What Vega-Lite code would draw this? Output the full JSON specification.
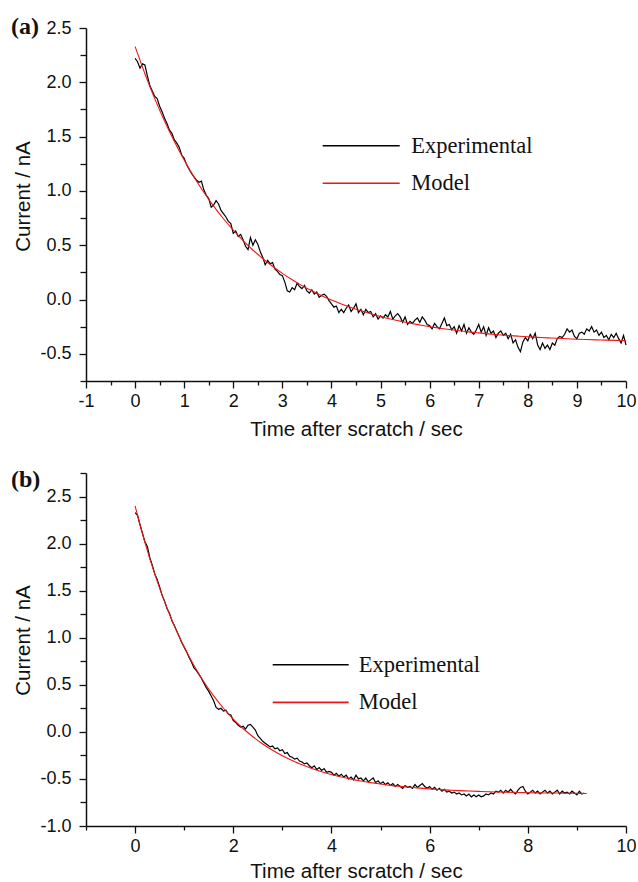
{
  "$schema": "https://vega.github.io/schema/vega-lite/v6.json",
  "padding": {"left": 10, "top": 15, "right": 0, "bottom": 0},
  "config": {
    "font": "Liberation Sans",
    "view": {"stroke": null},
    "axis": {"grid": false, "domainColor": "#111", "domainWidth": 1.5, "tickColor": "#111", "tickWidth": 1.3, "labelColor": "#111", "titleColor": "#111", "labelFont": "Liberation Sans", "titleFont": "Liberation Sans", "labelFontSize": 18, "titleFontSize": 20.5, "titleFontWeight": "normal", "labelFlush": false, "labelOverlap": false, "labelBound": false}
  },
  "datasets": {
    "a_exp": [
      {"t":0.00,"i":2.22},{"t":0.05,"i":2.19},{"t":0.10,"i":2.13},{"t":0.15,"i":2.17},{"t":0.20,"i":2.16},{"t":0.25,"i":2.06},{"t":0.30,"i":1.97},{"t":0.35,"i":1.92},{"t":0.40,"i":1.87},{"t":0.45,"i":1.85},
      {"t":0.50,"i":1.78},{"t":0.55,"i":1.73},{"t":0.60,"i":1.67},{"t":0.65,"i":1.62},{"t":0.70,"i":1.56},{"t":0.75,"i":1.53},{"t":0.80,"i":1.47},{"t":0.85,"i":1.44},{"t":0.90,"i":1.40},{"t":0.95,"i":1.33},
      {"t":1.00,"i":1.30},{"t":1.05,"i":1.24},{"t":1.10,"i":1.20},{"t":1.15,"i":1.16},{"t":1.20,"i":1.13},{"t":1.25,"i":1.10},{"t":1.30,"i":1.08},{"t":1.35,"i":1.09},{"t":1.40,"i":1.01},{"t":1.45,"i":0.96},
      {"t":1.50,"i":0.93},{"t":1.55,"i":0.85},{"t":1.60,"i":0.87},{"t":1.65,"i":0.91},{"t":1.70,"i":0.88},{"t":1.75,"i":0.82},{"t":1.80,"i":0.79},{"t":1.85,"i":0.76},{"t":1.90,"i":0.72},{"t":1.95,"i":0.70},
      {"t":2.00,"i":0.61},{"t":2.05,"i":0.63},{"t":2.10,"i":0.58},{"t":2.15,"i":0.60},{"t":2.20,"i":0.55},{"t":2.25,"i":0.49},{"t":2.30,"i":0.46},{"t":2.35,"i":0.57},{"t":2.40,"i":0.50},{"t":2.45,"i":0.55},
      {"t":2.50,"i":0.51},{"t":2.55,"i":0.44},{"t":2.60,"i":0.39},{"t":2.65,"i":0.32},{"t":2.70,"i":0.36},{"t":2.75,"i":0.33},{"t":2.80,"i":0.34},{"t":2.85,"i":0.28},{"t":2.90,"i":0.26},{"t":2.95,"i":0.23},
      {"t":3.00,"i":0.22},{"t":3.05,"i":0.16},{"t":3.10,"i":0.08},{"t":3.15,"i":0.07},{"t":3.20,"i":0.11},{"t":3.25,"i":0.09},{"t":3.30,"i":0.15},{"t":3.35,"i":0.12},{"t":3.40,"i":0.10},{"t":3.45,"i":0.13},
      {"t":3.50,"i":0.08},{"t":3.55,"i":0.06},{"t":3.60,"i":0.09},{"t":3.65,"i":0.05},{"t":3.70,"i":0.07},{"t":3.75,"i":0.02},{"t":3.80,"i":0.04},{"t":3.85,"i":0.05},{"t":3.90,"i":0.03},{"t":3.95,"i":-0.01},
      {"t":4.00,"i":-0.04},{"t":4.05,"i":-0.07},{"t":4.10,"i":-0.06},{"t":4.15,"i":-0.12},{"t":4.20,"i":-0.09},{"t":4.25,"i":-0.12},{"t":4.30,"i":-0.08},{"t":4.35,"i":-0.05},{"t":4.40,"i":-0.11},{"t":4.45,"i":-0.08},
      {"t":4.50,"i":-0.04},{"t":4.55,"i":-0.12},{"t":4.60,"i":-0.09},{"t":4.65,"i":-0.14},{"t":4.70,"i":-0.09},{"t":4.75,"i":-0.12},{"t":4.80,"i":-0.11},{"t":4.85,"i":-0.16},{"t":4.90,"i":-0.13},{"t":4.95,"i":-0.18},
      {"t":5.00,"i":-0.15},{"t":5.05,"i":-0.17},{"t":5.10,"i":-0.14},{"t":5.15,"i":-0.16},{"t":5.20,"i":-0.11},{"t":5.25,"i":-0.18},{"t":5.30,"i":-0.15},{"t":5.35,"i":-0.13},{"t":5.40,"i":-0.16},{"t":5.45,"i":-0.21},
      {"t":5.50,"i":-0.16},{"t":5.55,"i":-0.23},{"t":5.60,"i":-0.20},{"t":5.65,"i":-0.22},{"t":5.70,"i":-0.19},{"t":5.75,"i":-0.17},{"t":5.80,"i":-0.21},{"t":5.85,"i":-0.16},{"t":5.90,"i":-0.19},{"t":5.95,"i":-0.23},
      {"t":6.00,"i":-0.24},{"t":6.05,"i":-0.27},{"t":6.10,"i":-0.22},{"t":6.15,"i":-0.25},{"t":6.20,"i":-0.27},{"t":6.25,"i":-0.22},{"t":6.30,"i":-0.17},{"t":6.35,"i":-0.24},{"t":6.40,"i":-0.23},{"t":6.45,"i":-0.28},
      {"t":6.50,"i":-0.25},{"t":6.55,"i":-0.31},{"t":6.60,"i":-0.24},{"t":6.65,"i":-0.29},{"t":6.70,"i":-0.23},{"t":6.75,"i":-0.31},{"t":6.80,"i":-0.26},{"t":6.85,"i":-0.30},{"t":6.90,"i":-0.32},{"t":6.95,"i":-0.28},
      {"t":7.00,"i":-0.23},{"t":7.05,"i":-0.30},{"t":7.10,"i":-0.25},{"t":7.15,"i":-0.33},{"t":7.20,"i":-0.26},{"t":7.25,"i":-0.31},{"t":7.30,"i":-0.29},{"t":7.35,"i":-0.35},{"t":7.40,"i":-0.31},{"t":7.45,"i":-0.29},
      {"t":7.50,"i":-0.33},{"t":7.55,"i":-0.31},{"t":7.60,"i":-0.36},{"t":7.65,"i":-0.32},{"t":7.70,"i":-0.40},{"t":7.75,"i":-0.37},{"t":7.80,"i":-0.44},{"t":7.85,"i":-0.48},{"t":7.90,"i":-0.39},{"t":7.95,"i":-0.35},
      {"t":8.00,"i":-0.38},{"t":8.05,"i":-0.32},{"t":8.10,"i":-0.36},{"t":8.15,"i":-0.31},{"t":8.20,"i":-0.42},{"t":8.25,"i":-0.46},{"t":8.30,"i":-0.40},{"t":8.35,"i":-0.45},{"t":8.40,"i":-0.42},{"t":8.45,"i":-0.46},
      {"t":8.50,"i":-0.40},{"t":8.55,"i":-0.42},{"t":8.60,"i":-0.36},{"t":8.65,"i":-0.34},{"t":8.70,"i":-0.35},{"t":8.75,"i":-0.32},{"t":8.80,"i":-0.27},{"t":8.85,"i":-0.30},{"t":8.90,"i":-0.28},{"t":8.95,"i":-0.34},
      {"t":9.00,"i":-0.36},{"t":9.05,"i":-0.31},{"t":9.10,"i":-0.30},{"t":9.15,"i":-0.32},{"t":9.20,"i":-0.27},{"t":9.25,"i":-0.29},{"t":9.30,"i":-0.25},{"t":9.35,"i":-0.30},{"t":9.40,"i":-0.28},{"t":9.45,"i":-0.33},
      {"t":9.50,"i":-0.30},{"t":9.55,"i":-0.35},{"t":9.60,"i":-0.33},{"t":9.65,"i":-0.37},{"t":9.70,"i":-0.32},{"t":9.75,"i":-0.35},{"t":9.80,"i":-0.31},{"t":9.85,"i":-0.36},{"t":9.90,"i":-0.40},{"t":9.95,"i":-0.33},
      {"t":10.00,"i":-0.42}
    ],
    "a_mod": [
      {"t":0,"i":2.330},{"t":0.2,"i":2.079},{"t":0.4,"i":1.850},{"t":0.6,"i":1.643},{"t":0.8,"i":1.455},{"t":1.0,"i":1.284},{"t":1.2,"i":1.129},{"t":1.4,"i":0.988},{"t":1.6,"i":0.860},{"t":1.8,"i":0.744},
      {"t":2.0,"i":0.639},{"t":2.2,"i":0.543},{"t":2.4,"i":0.456},{"t":2.6,"i":0.378},{"t":2.8,"i":0.306},{"t":3.0,"i":0.241},{"t":3.2,"i":0.182},{"t":3.4,"i":0.128},{"t":3.6,"i":0.080},{"t":3.8,"i":0.035},
      {"t":4.0,"i":-0.005},{"t":4.2,"i":-0.041},{"t":4.4,"i":-0.074},{"t":4.6,"i":-0.104},{"t":4.8,"i":-0.131},{"t":5.0,"i":-0.156},{"t":5.2,"i":-0.179},{"t":5.4,"i":-0.199},{"t":5.6,"i":-0.218},{"t":5.8,"i":-0.234},
      {"t":6.0,"i":-0.250},{"t":6.2,"i":-0.263},{"t":6.4,"i":-0.276},{"t":6.6,"i":-0.288},{"t":6.8,"i":-0.298},{"t":7.0,"i":-0.307},{"t":7.2,"i":-0.316},{"t":7.4,"i":-0.324},{"t":7.6,"i":-0.331},{"t":7.8,"i":-0.337},
      {"t":8.0,"i":-0.343},{"t":8.2,"i":-0.348},{"t":8.4,"i":-0.353},{"t":8.6,"i":-0.357},{"t":8.8,"i":-0.361},{"t":9.0,"i":-0.365},{"t":9.2,"i":-0.368},{"t":9.4,"i":-0.371},{"t":9.6,"i":-0.374},{"t":9.8,"i":-0.376},
      {"t":10.0,"i":-0.378}
    ],
    "b_exp": [
      {"t":0.00,"i":2.33},{"t":0.05,"i":2.30},{"t":0.10,"i":2.20},{"t":0.15,"i":2.11},{"t":0.20,"i":2.02},{"t":0.25,"i":1.97},{"t":0.30,"i":1.85},{"t":0.35,"i":1.77},{"t":0.40,"i":1.68},{"t":0.45,"i":1.62},
      {"t":0.50,"i":1.54},{"t":0.55,"i":1.45},{"t":0.60,"i":1.39},{"t":0.65,"i":1.31},{"t":0.70,"i":1.26},{"t":0.75,"i":1.18},{"t":0.80,"i":1.13},{"t":0.85,"i":1.07},{"t":0.90,"i":1.01},{"t":0.95,"i":0.95},
      {"t":1.00,"i":0.90},{"t":1.05,"i":0.85},{"t":1.10,"i":0.79},{"t":1.15,"i":0.74},{"t":1.20,"i":0.68},{"t":1.25,"i":0.65},{"t":1.30,"i":0.61},{"t":1.35,"i":0.57},{"t":1.40,"i":0.52},{"t":1.45,"i":0.47},
      {"t":1.50,"i":0.43},{"t":1.55,"i":0.38},{"t":1.60,"i":0.33},{"t":1.65,"i":0.26},{"t":1.70,"i":0.24},{"t":1.75,"i":0.25},{"t":1.80,"i":0.22},{"t":1.85,"i":0.23},{"t":1.90,"i":0.19},{"t":1.95,"i":0.18},
      {"t":2.00,"i":0.12},{"t":2.05,"i":0.10},{"t":2.10,"i":0.07},{"t":2.15,"i":0.05},{"t":2.20,"i":0.06},{"t":2.25,"i":0.03},{"t":2.30,"i":0.07},{"t":2.35,"i":0.08},{"t":2.40,"i":0.05},{"t":2.45,"i":0.02},
      {"t":2.50,"i":-0.04},{"t":2.55,"i":-0.07},{"t":2.60,"i":-0.10},{"t":2.65,"i":-0.12},{"t":2.70,"i":-0.14},{"t":2.75,"i":-0.16},{"t":2.80,"i":-0.15},{"t":2.85,"i":-0.18},{"t":2.90,"i":-0.17},{"t":2.95,"i":-0.20},
      {"t":3.00,"i":-0.19},{"t":3.05,"i":-0.23},{"t":3.10,"i":-0.22},{"t":3.15,"i":-0.26},{"t":3.20,"i":-0.27},{"t":3.25,"i":-0.29},{"t":3.30,"i":-0.28},{"t":3.35,"i":-0.31},{"t":3.40,"i":-0.32},{"t":3.45,"i":-0.34},
      {"t":3.50,"i":-0.33},{"t":3.55,"i":-0.36},{"t":3.60,"i":-0.38},{"t":3.65,"i":-0.36},{"t":3.70,"i":-0.40},{"t":3.75,"i":-0.38},{"t":3.80,"i":-0.41},{"t":3.85,"i":-0.39},{"t":3.90,"i":-0.43},{"t":3.95,"i":-0.42},
      {"t":4.00,"i":-0.43},{"t":4.05,"i":-0.46},{"t":4.10,"i":-0.44},{"t":4.15,"i":-0.47},{"t":4.20,"i":-0.45},{"t":4.25,"i":-0.48},{"t":4.30,"i":-0.46},{"t":4.35,"i":-0.50},{"t":4.40,"i":-0.48},{"t":4.45,"i":-0.51},
      {"t":4.50,"i":-0.46},{"t":4.55,"i":-0.50},{"t":4.60,"i":-0.49},{"t":4.65,"i":-0.52},{"t":4.70,"i":-0.49},{"t":4.75,"i":-0.53},{"t":4.80,"i":-0.51},{"t":4.85,"i":-0.49},{"t":4.90,"i":-0.54},{"t":4.95,"i":-0.52},
      {"t":5.00,"i":-0.55},{"t":5.05,"i":-0.53},{"t":5.10,"i":-0.56},{"t":5.15,"i":-0.54},{"t":5.20,"i":-0.57},{"t":5.25,"i":-0.55},{"t":5.30,"i":-0.58},{"t":5.35,"i":-0.56},{"t":5.40,"i":-0.58},{"t":5.45,"i":-0.60},
      {"t":5.50,"i":-0.57},{"t":5.55,"i":-0.59},{"t":5.60,"i":-0.58},{"t":5.65,"i":-0.60},{"t":5.70,"i":-0.56},{"t":5.75,"i":-0.59},{"t":5.80,"i":-0.57},{"t":5.85,"i":-0.55},{"t":5.90,"i":-0.58},{"t":5.95,"i":-0.60},
      {"t":6.00,"i":-0.58},{"t":6.05,"i":-0.61},{"t":6.10,"i":-0.59},{"t":6.15,"i":-0.62},{"t":6.20,"i":-0.60},{"t":6.25,"i":-0.63},{"t":6.30,"i":-0.61},{"t":6.35,"i":-0.64},{"t":6.40,"i":-0.63},{"t":6.45,"i":-0.65},
      {"t":6.50,"i":-0.64},{"t":6.55,"i":-0.66},{"t":6.60,"i":-0.65},{"t":6.65,"i":-0.67},{"t":6.70,"i":-0.66},{"t":6.75,"i":-0.68},{"t":6.80,"i":-0.66},{"t":6.85,"i":-0.69},{"t":6.90,"i":-0.67},{"t":6.95,"i":-0.69},
      {"t":7.00,"i":-0.67},{"t":7.05,"i":-0.69},{"t":7.10,"i":-0.68},{"t":7.15,"i":-0.66},{"t":7.20,"i":-0.67},{"t":7.25,"i":-0.65},{"t":7.30,"i":-0.66},{"t":7.35,"i":-0.63},{"t":7.40,"i":-0.64},{"t":7.45,"i":-0.62},
      {"t":7.50,"i":-0.65},{"t":7.55,"i":-0.62},{"t":7.60,"i":-0.64},{"t":7.65,"i":-0.61},{"t":7.70,"i":-0.64},{"t":7.75,"i":-0.66},{"t":7.80,"i":-0.62},{"t":7.85,"i":-0.59},{"t":7.90,"i":-0.58},{"t":7.95,"i":-0.63},
      {"t":8.00,"i":-0.66},{"t":8.05,"i":-0.64},{"t":8.10,"i":-0.62},{"t":8.15,"i":-0.65},{"t":8.20,"i":-0.63},{"t":8.25,"i":-0.66},{"t":8.30,"i":-0.64},{"t":8.35,"i":-0.62},{"t":8.40,"i":-0.65},{"t":8.45,"i":-0.63},
      {"t":8.50,"i":-0.66},{"t":8.55,"i":-0.64},{"t":8.60,"i":-0.62},{"t":8.65,"i":-0.66},{"t":8.70,"i":-0.63},{"t":8.75,"i":-0.65},{"t":8.80,"i":-0.64},{"t":8.85,"i":-0.66},{"t":8.90,"i":-0.63},{"t":8.95,"i":-0.65},
      {"t":9.00,"i":-0.67},{"t":9.05,"i":-0.63},{"t":9.10,"i":-0.66},{"t":9.15,"i":-0.65}
    ],
    "b_mod": [
      {"t":0,"i":2.400},{"t":0.2,"i":2.014},{"t":0.4,"i":1.678},{"t":0.6,"i":1.383},{"t":0.8,"i":1.126},{"t":1.0,"i":0.901},{"t":1.2,"i":0.704},{"t":1.4,"i":0.532},{"t":1.6,"i":0.382},{"t":1.8,"i":0.251},
      {"t":2.0,"i":0.136},{"t":2.2,"i":0.036},{"t":2.4,"i":-0.052},{"t":2.6,"i":-0.129},{"t":2.8,"i":-0.196},{"t":3.0,"i":-0.254},{"t":3.2,"i":-0.305},{"t":3.4,"i":-0.350},{"t":3.6,"i":-0.389},{"t":3.8,"i":-0.423},
      {"t":4.0,"i":-0.453},{"t":4.2,"i":-0.479},{"t":4.4,"i":-0.502},{"t":4.6,"i":-0.522},{"t":4.8,"i":-0.539},{"t":5.0,"i":-0.554},{"t":5.2,"i":-0.568},{"t":5.4,"i":-0.579},{"t":5.6,"i":-0.589},{"t":5.8,"i":-0.598},
      {"t":6.0,"i":-0.606},{"t":6.2,"i":-0.613},{"t":6.4,"i":-0.619},{"t":6.6,"i":-0.624},{"t":6.8,"i":-0.628},{"t":7.0,"i":-0.632},{"t":7.2,"i":-0.636},{"t":7.4,"i":-0.639},{"t":7.6,"i":-0.642},{"t":7.8,"i":-0.644},
      {"t":8.0,"i":-0.646},{"t":8.2,"i":-0.648},{"t":8.4,"i":-0.649},{"t":8.6,"i":-0.650},{"t":8.8,"i":-0.652},{"t":9.0,"i":-0.653},{"t":9.2,"i":-0.654}
    ]
  },
  "spacing": 28,
  "resolve": {"scale": {"x": "independent", "y": "independent", "color": "independent"}, "axis": {"x": "independent", "y": "independent"}, "legend": {"color": "independent"}},
  "vconcat": [
    {
      "width": 540, "height": 353,
      "title": {"text": "(a)", "anchor": "start", "frame": "bounds", "font": "Liberation Serif", "fontWeight": "bold", "fontSize": 24, "color": "#111", "dx": -3, "dy": 20, "offset": 0},
      "resolve": {"axis": {"x": "independent", "y": "independent"}},
      "layer": [
        {
          "data": {"name": "a_exp"},
          "mark": {"type": "line", "strokeWidth": 1.2},
          "encoding": {
            "x": {"field": "t", "type": "quantitative", "scale": {"domain": [-1, 10], "nice": false, "zero": false},
                  "axis": {"orient": "bottom", "values": [-0.5,0.5,1.5,2.5,3.5,4.5,5.5,6.5,7.5,8.5,9.5], "labels": false, "title": null, "domain": false, "tickSize": 4}},
            "y": {"field": "i", "type": "quantitative", "scale": {"domain": [-0.75, 2.5], "nice": false, "zero": false},
                  "axis": {"orient": "left", "values": [-0.75,-0.25,0.25,0.75,1.25,1.75,2.25], "labels": false, "title": null, "domain": false, "tickSize": 6}},
            "color": {"datum": "Experimental", "type": "nominal", "scale": {"domain": ["Experimental", "Model"], "range": ["#000000", "#f01515"]},
                      "legend": {"orient": "none", "legendX": 235.7, "legendY": 102.7, "title": null, "symbolType": "stroke", "symbolSize": 5929, "symbolStrokeWidth": 1.6, "clipHeight": 30, "labelFont": "Liberation Serif", "labelFontSize": 22.5, "labelColor": "#111", "labelOffset": 10.5, "rowPadding": 7.6, "padding": 0}}
          }
        },
        {
          "data": {"name": "a_mod"},
          "mark": {"type": "line", "strokeWidth": 1.1, "interpolate": "monotone"},
          "encoding": {
            "x": {"field": "t", "type": "quantitative", "scale": {"domain": [-1, 10], "nice": false, "zero": false},
                  "axis": {"orient": "bottom", "values": [-1,0,1,2,3,4,5,6,7,8,9,10], "title": "Time after scratch / sec", "tickSize": 7, "labelPadding": 4, "titlePadding": 9,
                           "labelExpr": "replace(format(datum.value, 'd'), '\u2212', '-')"}},
            "y": {"field": "i", "type": "quantitative", "scale": {"domain": [-0.75, 2.5], "nice": false, "zero": false},
                  "axis": {"orient": "left", "values": [-0.5,0,0.5,1,1.5,2,2.5], "title": "Current / nA", "tickSize": 7, "labelPadding": 8, "titlePadding": 6, "titleY": 168,
                           "labelExpr": "replace(format(datum.value, '.1f'), '\u2212', '-')"}},
            "color": {"datum": "Model", "type": "nominal"}
          }
        }
      ]
    },
    {
      "width": 540, "height": 353,
      "title": {"text": "(b)", "anchor": "start", "frame": "bounds", "font": "Liberation Serif", "fontWeight": "bold", "fontSize": 24, "color": "#111", "dx": -3, "dy": 20, "offset": 0},
      "resolve": {"axis": {"x": "independent", "y": "independent"}},
      "layer": [
        {
          "data": {"name": "b_exp"},
          "mark": {"type": "line", "strokeWidth": 1.2},
          "encoding": {
            "x": {"field": "t", "type": "quantitative", "scale": {"domain": [-1, 10], "nice": false, "zero": false},
                  "axis": {"orient": "bottom", "values": [-1,1,3,5,7,9], "labels": false, "title": null, "domain": false, "tickSize": 4}},
            "y": {"field": "i", "type": "quantitative", "scale": {"domain": [-1, 2.75], "nice": false, "zero": false},
                  "axis": {"orient": "left", "values": [-0.75,-0.25,0.25,0.75,1.25,1.75,2.25,2.75], "labels": false, "title": null, "domain": false, "tickSize": 6}},
            "color": {"datum": "Experimental", "type": "nominal", "scale": {"domain": ["Experimental", "Model"], "range": ["#000000", "#f01515"]},
                      "legend": {"orient": "none", "legendX": 185.7, "legendY": 176.7, "title": null, "symbolType": "stroke", "symbolSize": 5776, "symbolStrokeWidth": 1.6, "clipHeight": 30, "labelFont": "Liberation Serif", "labelFontSize": 22.5, "labelColor": "#111", "labelOffset": 9, "rowPadding": 7.7, "padding": 0}}
          }
        },
        {
          "data": {"name": "b_mod"},
          "mark": {"type": "line", "strokeWidth": 1.1, "interpolate": "monotone"},
          "encoding": {
            "x": {"field": "t", "type": "quantitative", "scale": {"domain": [-1, 10], "nice": false, "zero": false},
                  "axis": {"orient": "bottom", "values": [0,2,4,6,8,10], "title": "Time after scratch / sec", "tickSize": 7, "labelPadding": 4, "titlePadding": 6,
                           "labelExpr": "replace(format(datum.value, 'd'), '\u2212', '-')"}},
            "y": {"field": "i", "type": "quantitative", "scale": {"domain": [-1, 2.75], "nice": false, "zero": false},
                  "axis": {"orient": "left", "values": [-1,-0.5,0,0.5,1,1.5,2,2.5], "title": "Current / nA", "tickSize": 7, "labelPadding": 8, "titlePadding": 6, "titleY": 167,
                           "labelExpr": "replace(format(datum.value, '.1f'), '\u2212', '-')"}},
            "color": {"datum": "Model", "type": "nominal"}
          }
        }
      ]
    }
  ]
}
